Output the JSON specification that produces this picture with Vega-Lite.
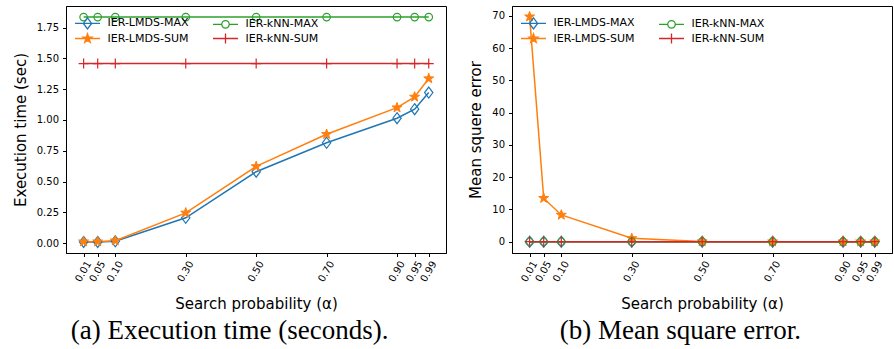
{
  "$schema": "https://vega.github.io/schema/vega-lite/v6.json",
  "padding": {"left": 12, "top": 5, "right": 2, "bottom": 0},
  "spacing": 21,
  "config": {
    "font": "DejaVu Sans",
    "view": {"stroke": "black", "strokeWidth": 1},
    "axis": {"grid": false, "domainColor": "black", "tickColor": "black", "labelColor": "black", "titleColor": "black", "labelFont": "DejaVu Sans", "titleFont": "DejaVu Sans", "labelFontSize": 10, "titleFontSize": 15, "titleFontWeight": "normal", "tickSize": 3.5, "domainWidth": 1, "tickWidth": 1},
    "axisY": {"labelPadding": 4, "titlePadding": 8},
    "axisX": {"labelAngle": -60, "labelAlign": "right", "labelBaseline": "middle", "labelOffset": 5, "labelPadding": 5, "titlePadding": 13, "labelOverlap": false},
    "legend": {"padding": 0, "labelFont": "DejaVu Sans", "labelFontSize": 11, "labelColor": "black", "labelOffset": 14, "symbolSize": 100, "symbolStrokeWidth": 1.3, "symbolOpacity": 1, "rowPadding": -1.5, "columnPadding": 21},
    "title": {"font": "Liberation Serif", "fontSize": 27, "fontWeight": "normal", "color": "black", "orient": "bottom", "anchor": "middle", "frame": "bounds", "offset": 7}
  },
  "datasets": {
    "time": [
      {"alpha": 0.01, "series": "IER-LMDS-MAX", "value": 0.01},
      {"alpha": 0.05, "series": "IER-LMDS-MAX", "value": 0.01},
      {"alpha": 0.10, "series": "IER-LMDS-MAX", "value": 0.015},
      {"alpha": 0.30, "series": "IER-LMDS-MAX", "value": 0.206},
      {"alpha": 0.50, "series": "IER-LMDS-MAX", "value": 0.58},
      {"alpha": 0.70, "series": "IER-LMDS-MAX", "value": 0.815},
      {"alpha": 0.90, "series": "IER-LMDS-MAX", "value": 1.014},
      {"alpha": 0.95, "series": "IER-LMDS-MAX", "value": 1.087},
      {"alpha": 0.99, "series": "IER-LMDS-MAX", "value": 1.222},
      {"alpha": 0.01, "series": "IER-LMDS-SUM", "value": 0.012},
      {"alpha": 0.05, "series": "IER-LMDS-SUM", "value": 0.012},
      {"alpha": 0.10, "series": "IER-LMDS-SUM", "value": 0.02},
      {"alpha": 0.30, "series": "IER-LMDS-SUM", "value": 0.246},
      {"alpha": 0.50, "series": "IER-LMDS-SUM", "value": 0.623},
      {"alpha": 0.70, "series": "IER-LMDS-SUM", "value": 0.884},
      {"alpha": 0.90, "series": "IER-LMDS-SUM", "value": 1.10},
      {"alpha": 0.95, "series": "IER-LMDS-SUM", "value": 1.187},
      {"alpha": 0.99, "series": "IER-LMDS-SUM", "value": 1.336},
      {"alpha": 0.01, "series": "IER-kNN-MAX", "value": 1.835},
      {"alpha": 0.05, "series": "IER-kNN-MAX", "value": 1.835},
      {"alpha": 0.10, "series": "IER-kNN-MAX", "value": 1.835},
      {"alpha": 0.30, "series": "IER-kNN-MAX", "value": 1.835},
      {"alpha": 0.50, "series": "IER-kNN-MAX", "value": 1.835},
      {"alpha": 0.70, "series": "IER-kNN-MAX", "value": 1.835},
      {"alpha": 0.90, "series": "IER-kNN-MAX", "value": 1.835},
      {"alpha": 0.95, "series": "IER-kNN-MAX", "value": 1.835},
      {"alpha": 0.99, "series": "IER-kNN-MAX", "value": 1.835},
      {"alpha": 0.01, "series": "IER-kNN-SUM", "value": 1.458},
      {"alpha": 0.05, "series": "IER-kNN-SUM", "value": 1.458},
      {"alpha": 0.10, "series": "IER-kNN-SUM", "value": 1.458},
      {"alpha": 0.30, "series": "IER-kNN-SUM", "value": 1.458},
      {"alpha": 0.50, "series": "IER-kNN-SUM", "value": 1.458},
      {"alpha": 0.70, "series": "IER-kNN-SUM", "value": 1.458},
      {"alpha": 0.90, "series": "IER-kNN-SUM", "value": 1.458},
      {"alpha": 0.95, "series": "IER-kNN-SUM", "value": 1.458},
      {"alpha": 0.99, "series": "IER-kNN-SUM", "value": 1.458}
    ],
    "mse": [
      {"alpha": 0.01, "series": "IER-LMDS-MAX", "value": 0},
      {"alpha": 0.05, "series": "IER-LMDS-MAX", "value": 0},
      {"alpha": 0.10, "series": "IER-LMDS-MAX", "value": 0},
      {"alpha": 0.30, "series": "IER-LMDS-MAX", "value": 0},
      {"alpha": 0.50, "series": "IER-LMDS-MAX", "value": 0},
      {"alpha": 0.70, "series": "IER-LMDS-MAX", "value": 0},
      {"alpha": 0.90, "series": "IER-LMDS-MAX", "value": 0},
      {"alpha": 0.95, "series": "IER-LMDS-MAX", "value": 0},
      {"alpha": 0.99, "series": "IER-LMDS-MAX", "value": 0},
      {"alpha": 0.01, "series": "IER-LMDS-SUM", "value": 69.8},
      {"alpha": 0.05, "series": "IER-LMDS-SUM", "value": 13.5},
      {"alpha": 0.10, "series": "IER-LMDS-SUM", "value": 8.3},
      {"alpha": 0.30, "series": "IER-LMDS-SUM", "value": 1.05},
      {"alpha": 0.50, "series": "IER-LMDS-SUM", "value": 0.05},
      {"alpha": 0.70, "series": "IER-LMDS-SUM", "value": 0.02},
      {"alpha": 0.90, "series": "IER-LMDS-SUM", "value": 0.01},
      {"alpha": 0.95, "series": "IER-LMDS-SUM", "value": 0.01},
      {"alpha": 0.99, "series": "IER-LMDS-SUM", "value": 0.01},
      {"alpha": 0.01, "series": "IER-kNN-MAX", "value": 0},
      {"alpha": 0.05, "series": "IER-kNN-MAX", "value": 0},
      {"alpha": 0.10, "series": "IER-kNN-MAX", "value": 0},
      {"alpha": 0.30, "series": "IER-kNN-MAX", "value": 0},
      {"alpha": 0.50, "series": "IER-kNN-MAX", "value": 0},
      {"alpha": 0.70, "series": "IER-kNN-MAX", "value": 0},
      {"alpha": 0.90, "series": "IER-kNN-MAX", "value": 0},
      {"alpha": 0.95, "series": "IER-kNN-MAX", "value": 0},
      {"alpha": 0.99, "series": "IER-kNN-MAX", "value": 0},
      {"alpha": 0.01, "series": "IER-kNN-SUM", "value": 0},
      {"alpha": 0.05, "series": "IER-kNN-SUM", "value": 0},
      {"alpha": 0.10, "series": "IER-kNN-SUM", "value": 0},
      {"alpha": 0.30, "series": "IER-kNN-SUM", "value": 0},
      {"alpha": 0.50, "series": "IER-kNN-SUM", "value": 0},
      {"alpha": 0.70, "series": "IER-kNN-SUM", "value": 0},
      {"alpha": 0.90, "series": "IER-kNN-SUM", "value": 0},
      {"alpha": 0.95, "series": "IER-kNN-SUM", "value": 0},
      {"alpha": 0.99, "series": "IER-kNN-SUM", "value": 0}
    ]
  },
  "hconcat": [
    {
      "width": 380,
      "height": 247,
      "data": {"name": "time"},
      "title": {"text": "(a) Execution time (seconds)."},
      "encoding": {
        "x": {"field": "alpha", "type": "quantitative", "title": "Search probability (α)", "scale": {"domain": [-0.04, 1.039], "nice": false, "zero": false}, "axis": {"values": [0.01, 0.05, 0.1, 0.3, 0.5, 0.7, 0.9, 0.95, 0.99], "format": ".2f"}},
        "y": {"field": "value", "type": "quantitative", "title": "Execution time (sec)", "scale": {"domain": [-0.08, 1.925], "nice": false, "zero": false}, "axis": {"values": [0, 0.25, 0.5, 0.75, 1, 1.25, 1.5, 1.75], "format": ".2f"}}
      },
      "layer": [
        {"mark": {"type": "line", "strokeWidth": 1.5}, "encoding": {"color": {"field": "series", "type": "nominal", "sort": "ascending", "scale": {"range": ["#1f77b4", "#ff7f0e", "#2ca02c", "#d62728"]}, "legend": null}}},
        {"transform": [{"filter": "datum.series === 'IER-LMDS-MAX'"}], "mark": {"type": "point", "filled": true, "opacity": 1, "size": 100, "shape": "M0,-1.1L0.83,0L0,1.1L-0.83,0Z", "fill": "transparent", "stroke": "#1f77b4", "strokeWidth": 1.2}},
        {"transform": [{"filter": "datum.series === 'IER-LMDS-SUM'"}], "mark": {"type": "point", "filled": true, "opacity": 1, "size": 100, "shape": "M0,-1.05L0.247,-0.34L0.999,-0.324L0.399,0.13L0.617,0.849L0,0.42L-0.617,0.849L-0.399,0.13L-0.999,-0.324L-0.247,-0.34Z", "fill": "#ff7f0e", "stroke": "#ff7f0e", "strokeWidth": 1}},
        {"transform": [{"filter": "datum.series === 'IER-kNN-MAX'"}], "mark": {"type": "point", "filled": true, "opacity": 1, "size": 100, "shape": "M0.75,0A0.75,0.75,0,1,1,-0.75,0A0.75,0.75,0,1,1,0.75,0Z", "fill": "transparent", "stroke": "#2ca02c", "strokeWidth": 1.2}},
        {"transform": [{"filter": "datum.series === 'IER-kNN-SUM'"}], "mark": {"type": "point", "filled": true, "opacity": 1, "size": 100, "shape": "M-1,0L1,0M0,-1L0,1", "fill": "transparent", "stroke": "#d62728", "strokeWidth": 1.2}},
        {"mark": {"type": "point", "filled": true, "size": 100, "opacity": 0},
         "encoding": {
           "stroke": {"field": "series", "type": "nominal", "title": null, "scale": {"domain": ["IER-LMDS-MAX", "IER-LMDS-SUM", "IER-kNN-MAX", "IER-kNN-SUM"], "range": ["#1f77b4", "#ff7f0e", "#2ca02c", "#d62728"]}, "legend": {"orient": "none", "legendX": 15.5, "legendY": 11, "columns": 2}},
           "fill": {"field": "series", "type": "nominal", "title": null, "scale": {"domain": ["IER-LMDS-MAX", "IER-LMDS-SUM", "IER-kNN-MAX", "IER-kNN-SUM"], "range": ["transparent", "#ff7f0e", "transparent", "transparent"]}, "legend": {"orient": "none", "legendX": 15.5, "legendY": 11, "columns": 2}},
           "shape": {"field": "series", "type": "nominal", "title": null, "scale": {"domain": ["IER-LMDS-MAX", "IER-LMDS-SUM", "IER-kNN-MAX", "IER-kNN-SUM"], "range": ["M-2.5,0L2.5,0M0,-1.1L0.83,0L0,1.1L-0.83,0Z", "M-2.5,0L2.5,0M0,-0.95L0.223,-0.307L0.904,-0.293L0.361,0.118L0.558,0.768L0,0.38L-0.558,0.768L-0.361,0.118L-0.904,-0.293L-0.223,-0.307Z", "M-2.5,0L-0.75,0M0.75,0L2.5,0M0.75,0A0.75,0.75,0,1,1,-0.75,0A0.75,0.75,0,1,1,0.75,0Z", "M-2.5,0L2.5,0M0,-1L0,1"]}, "legend": {"orient": "none", "legendX": 15.5, "legendY": 11, "columns": 2}}
         }}
      ]
    },
    {
      "width": 380,
      "height": 247,
      "data": {"name": "mse"},
      "title": {"text": "(b) Mean square error."},
      "encoding": {
        "x": {"field": "alpha", "type": "quantitative", "title": "Search probability (α)", "scale": {"domain": [-0.04, 1.039], "nice": false, "zero": false}, "axis": {"values": [0.01, 0.05, 0.1, 0.3, 0.5, 0.7, 0.9, 0.95, 0.99], "format": ".2f"}},
        "y": {"field": "value", "type": "quantitative", "title": "Mean squere error", "scale": {"domain": [-3.5, 73.1], "nice": false, "zero": false}, "axis": {"values": [0, 10, 20, 30, 40, 50, 60, 70], "format": "d"}}
      },
      "layer": [
        {"mark": {"type": "line", "strokeWidth": 1.5}, "encoding": {"color": {"field": "series", "type": "nominal", "sort": "ascending", "scale": {"range": ["#1f77b4", "#ff7f0e", "#2ca02c", "#d62728"]}, "legend": null}}},
        {"transform": [{"filter": "datum.series === 'IER-LMDS-MAX'"}], "mark": {"type": "point", "filled": true, "opacity": 1, "size": 100, "shape": "M0,-1.1L0.83,0L0,1.1L-0.83,0Z", "fill": "transparent", "stroke": "#1f77b4", "strokeWidth": 1.2}},
        {"transform": [{"filter": "datum.series === 'IER-LMDS-SUM'"}], "mark": {"type": "point", "filled": true, "opacity": 1, "size": 100, "shape": "M0,-1.05L0.247,-0.34L0.999,-0.324L0.399,0.13L0.617,0.849L0,0.42L-0.617,0.849L-0.399,0.13L-0.999,-0.324L-0.247,-0.34Z", "fill": "#ff7f0e", "stroke": "#ff7f0e", "strokeWidth": 1}},
        {"transform": [{"filter": "datum.series === 'IER-kNN-MAX'"}], "mark": {"type": "point", "filled": true, "opacity": 1, "size": 100, "shape": "M0.75,0A0.75,0.75,0,1,1,-0.75,0A0.75,0.75,0,1,1,0.75,0Z", "fill": "transparent", "stroke": "#2ca02c", "strokeWidth": 1.2}},
        {"transform": [{"filter": "datum.series === 'IER-kNN-SUM'"}], "mark": {"type": "point", "filled": true, "opacity": 1, "size": 100, "shape": "M-1,0L1,0M0,-1L0,1", "fill": "transparent", "stroke": "#d62728", "strokeWidth": 1.2}},
        {"mark": {"type": "point", "filled": true, "size": 100, "opacity": 0},
         "encoding": {
           "stroke": {"field": "series", "type": "nominal", "title": null, "scale": {"domain": ["IER-LMDS-MAX", "IER-LMDS-SUM", "IER-kNN-MAX", "IER-kNN-SUM"], "range": ["#1f77b4", "#ff7f0e", "#2ca02c", "#d62728"]}, "legend": {"orient": "none", "legendX": 15.5, "legendY": 11, "columns": 2}},
           "fill": {"field": "series", "type": "nominal", "title": null, "scale": {"domain": ["IER-LMDS-MAX", "IER-LMDS-SUM", "IER-kNN-MAX", "IER-kNN-SUM"], "range": ["transparent", "#ff7f0e", "transparent", "transparent"]}, "legend": {"orient": "none", "legendX": 15.5, "legendY": 11, "columns": 2}},
           "shape": {"field": "series", "type": "nominal", "title": null, "scale": {"domain": ["IER-LMDS-MAX", "IER-LMDS-SUM", "IER-kNN-MAX", "IER-kNN-SUM"], "range": ["M-2.5,0L2.5,0M0,-1.1L0.83,0L0,1.1L-0.83,0Z", "M-2.5,0L2.5,0M0,-0.95L0.223,-0.307L0.904,-0.293L0.361,0.118L0.558,0.768L0,0.38L-0.558,0.768L-0.361,0.118L-0.904,-0.293L-0.223,-0.307Z", "M-2.5,0L-0.75,0M0.75,0L2.5,0M0.75,0A0.75,0.75,0,1,1,-0.75,0A0.75,0.75,0,1,1,0.75,0Z", "M-2.5,0L2.5,0M0,-1L0,1"]}, "legend": {"orient": "none", "legendX": 15.5, "legendY": 11, "columns": 2}}
         }}
      ]
    }
  ],
  "resolve": {"scale": {"color": "independent", "stroke": "independent", "fill": "independent", "shape": "independent"}, "legend": {"stroke": "independent", "fill": "independent", "shape": "independent"}}
}
